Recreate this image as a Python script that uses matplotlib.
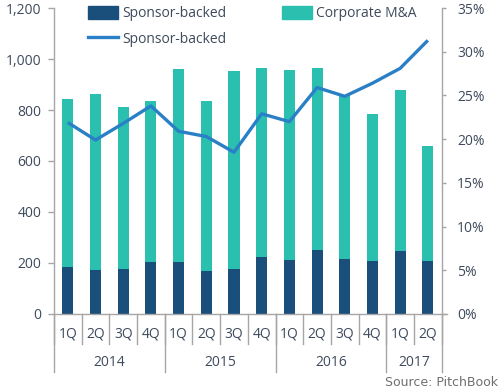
import matplotlib
matplotlib.use("Agg")
import matplotlib.pyplot as plt
from matplotlib.patches import Patch
from matplotlib.lines import Line2D
from matplotlib.ticker import FuncFormatter, FixedLocator

quarters = ["1Q", "2Q", "3Q", "4Q", "1Q", "2Q", "3Q", "4Q", "1Q", "2Q", "3Q", "4Q", "1Q", "2Q"]
years = ["2014", "2015", "2016", "2017"]
year_counts = [4, 4, 4, 2]
sponsor_backed = [183, 171, 175, 203, 203, 167, 175, 222, 210, 250, 214, 207, 246, 207]
total_deals = [843, 864, 813, 835, 961, 835, 953, 965, 956, 965, 859, 783, 878, 659]
corporate_ma = [t - s for t, s in zip(total_deals, sponsor_backed)]
sponsor_share = [21.9, 19.9, 21.8, 23.8, 20.9, 20.3, 18.5, 22.9, 22.0, 25.9, 24.9, 26.4, 28.1, 31.3]

DARK = "#1b4f7b"
TEAL = "#2bbfb0"
LINE = "#2a80c6"
TXT = "#3e4a5c"
AX = "#a6a6a6"

plt.rcParams['font.family'] = ['Open Sans', 'DejaVu Sans']

fig = plt.figure(figsize=(5.0, 3.91), dpi=100)
ax = fig.add_axes([0.108, 0.197, 0.7754, 0.7825])
ax2 = ax.twinx()

x = list(range(len(quarters)))
w = 0.4
ax.bar(x, sponsor_backed, width=w, color=DARK, zorder=2)
ax.bar(x, corporate_ma, width=w, bottom=sponsor_backed, color=TEAL, zorder=2)
ax2.plot(x, sponsor_share, color=LINE, lw=2.4, zorder=3, solid_capstyle='butt')

ax.set_xlim(-0.5, len(quarters) - 0.5)
ax.set_ylim(0, 1200)
ax2.set_ylim(0, 35)
ax.yaxis.set_major_locator(FixedLocator(range(0, 1201, 200)))
ax2.yaxis.set_major_locator(FixedLocator(range(0, 36, 5)))
ax.yaxis.set_major_formatter(FuncFormatter(lambda v, p: f"{int(v):,}"))
ax2.yaxis.set_major_formatter(FuncFormatter(lambda v, p: f"{int(v)}%"))

for a in (ax, ax2):
    a.spines['top'].set_visible(False)
    for s in ('left', 'right', 'bottom'):
        a.spines[s].set_color(AX)
        a.spines[s].set_linewidth(1.0)
ax.spines['right'].set_visible(False)
ax2.spines['left'].set_visible(False)
ax2.spines['bottom'].set_visible(False)

ax.tick_params(axis='y', colors=AX, labelcolor=TXT, labelsize=10, length=4, width=1, pad=5)
ax2.tick_params(axis='y', colors=AX, labelcolor=TXT, labelsize=10, length=3, width=1, pad=8)
ax.tick_params(axis='x', length=0, labelbottom=False)

trans = ax.get_xaxis_transform()
# quarter separators and labels
for i in range(len(quarters) + 1):
    ax.plot([i - 0.5, i - 0.5], [0, -0.098], transform=trans, color=AX, lw=1.0, clip_on=False)
for i, q in enumerate(quarters):
    ax.text(i, -0.066, q, transform=trans, ha='center', va='center', fontsize=10, color=TXT)
# year separators and labels
start = 0
for yr, n in zip(years, year_counts):
    ax.plot([start - 0.5, start - 0.5], [0, -0.19], transform=trans, color=AX, lw=1.0, clip_on=False)
    ax.text(start + n / 2 - 0.5, -0.158, yr, transform=trans, ha='center', va='center', fontsize=10, color=TXT)
    start += n
ax.plot([start - 0.5, start - 0.5], [0, -0.19], transform=trans, color=AX, lw=1.0, clip_on=False)
ax.plot([start - 0.5, start - 0.3], [0, 0], transform=trans, color=AX, lw=1.0, clip_on=False)

handles = [Patch(color=DARK), Line2D([], [], color=LINE, lw=2.4), Patch(color=TEAL)]
labels = ["Sponsor-backed", "Sponsor-backed", "Corporate M&A"]
leg = fig.legend(handles, labels, ncol=2, loc='upper left', bbox_to_anchor=(0.173, 0.987),
                 frameon=False, fontsize=10, handlelength=2.2, handleheight=1.0,
                 handletextpad=0.25, columnspacing=4.0, labelspacing=0.75,
                 borderaxespad=0, borderpad=0.1)
for t in leg.get_texts():
    t.set_color(TXT)

fig.text(0.996, 0.006, "Source: PitchBook", ha='right', va='bottom', fontsize=9,
         color="#6f6f6f", family='DejaVu Sans')

fig.savefig("out.png", dpi=100)
